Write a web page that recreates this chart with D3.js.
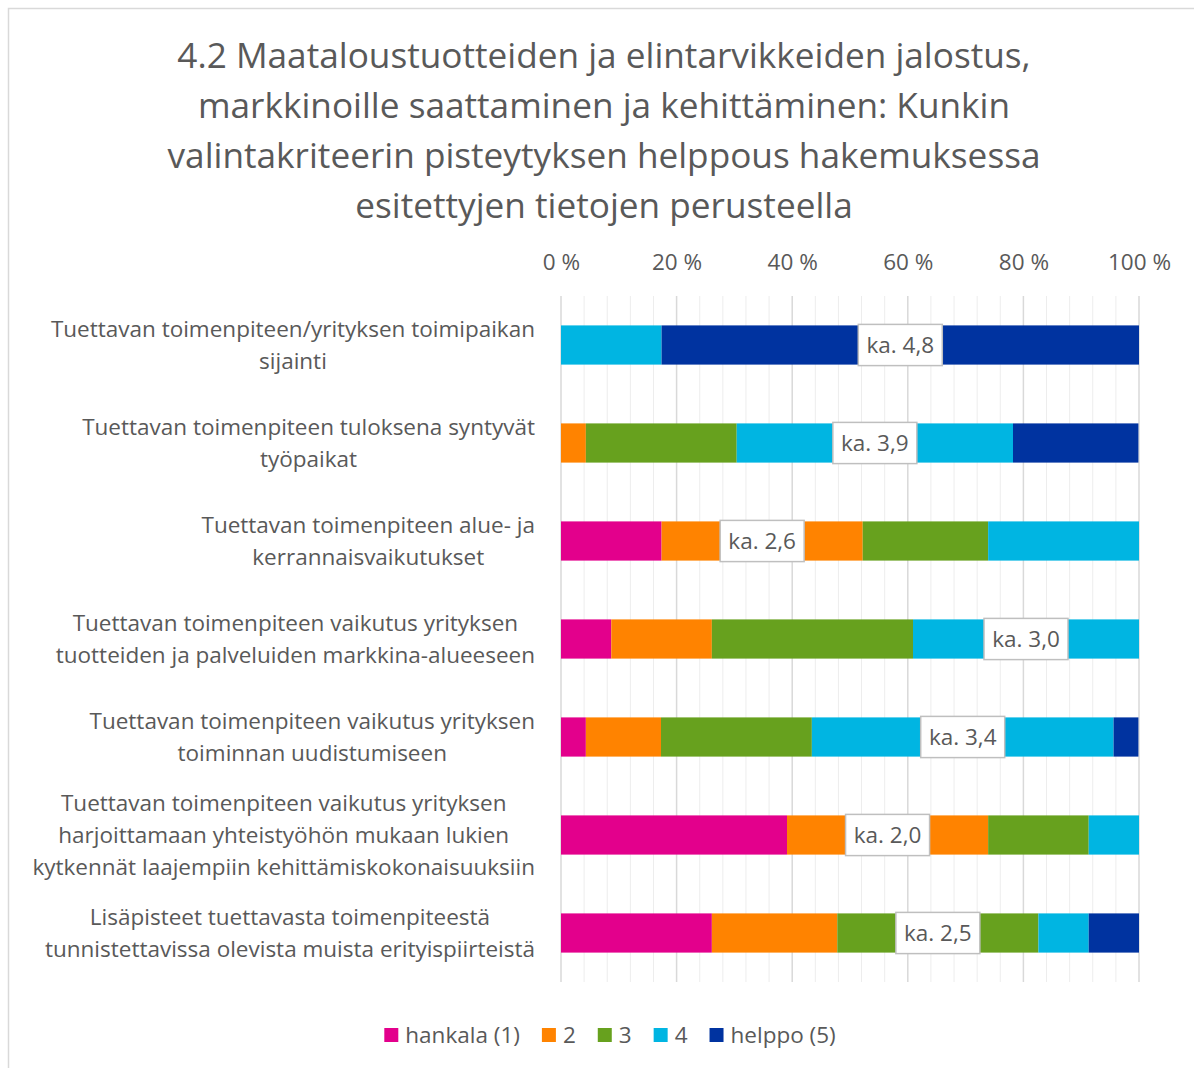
<!DOCTYPE html>
<html>
<head>
<meta charset="utf-8">
<script src="https://cdn.jsdelivr.net/npm/d3@7"></script>
<style>
	body { margin: 0; background: #fff; }
	svg text { font-family: "Open Sans", sans-serif; fill: #595959; }
</style>
</head>
<body>
<div class="svg-container"></div>
<script>
(function () {

	"use strict";

	// chart data
	var title_lines = [
		"4.2 Maataloustuotteiden ja elintarvikkeiden jalostus,",
		"markkinoille saattaminen ja kehittäminen: Kunkin",
		"valintakriteerin pisteytyksen helppous hakemuksessa",
		"esitettyjen tietojen perusteella"
	];

	var categories = [
		["Tuettavan toimenpiteen/yrityksen toimipaikan", "sijainti"],
		["Tuettavan toimenpiteen tuloksena syntyvät", "työpaikat"],
		["Tuettavan toimenpiteen alue- ja", "kerrannaisvaikutukset"],
		["Tuettavan toimenpiteen vaikutus yrityksen", "tuotteiden ja palveluiden markkina-alueeseen"],
		["Tuettavan toimenpiteen vaikutus yrityksen", "toiminnan uudistumiseen"],
		["Tuettavan toimenpiteen vaikutus yrityksen", "harjoittamaan yhteistyöhön mukaan lukien", "kytkennät laajempiin kehittämiskokonaisuuksiin"],
		["Lisäpisteet tuettavasta toimenpiteestä", "tunnistettavissa olevista muista erityispiirteistä"]
	];

	var series_names = ["hankala (1)", "2", "3", "4", "helppo (5)"];

	// percent of answers per category
	var s1 = [0, 0, 17.4, 8.7, 4.3, 39.1, 26.1],
		s2 = [0, 4.3, 34.8, 17.4, 13.0, 34.8, 21.7],
		s3 = [0, 26.1, 21.7, 34.8, 26.1, 17.4, 34.8],
		s4 = [17.4, 47.8, 26.1, 39.1, 52.2, 8.7, 8.7],
		s5 = [82.6, 21.7, 0, 0, 4.3, 0, 8.7];

	// average score and the segment that carries its label
	var means = [4.8, 3.9, 2.6, 3.0, 3.4, 2.0, 2.5],
		label_series = [4, 3, 1, 3, 3, 1, 2];

	var x_ticks = [0, 20, 40, 60, 80, 100];

	var colors = ["#e3008c", "#ff8300", "#67a11e", "#00b5e2", "#0033a0"];

	// table for the stack
	var rows = categories.map(function (c, i) {
		return { "i": i, "s0": s1[i], "s1": s2[i], "s2": s3[i], "s3": s4[i], "s4": s5[i] };
	});
	var keys = ["s0", "s1", "s2", "s3", "s4"];
	var stacked = d3.stack().keys(keys)(rows);

	var width = 1194, height = 1068,
		font_size = "22.5px";

	var svg = d3.select(".svg-container").append("svg")
		.attr("width", width)
		.attr("height", height);

	// chart frame
	svg.append("rect")
		.attr("x", 8.5).attr("y", 8.5)
		.attr("width", 1210).attr("height", 1100)
		.attr("fill", "none")
		.attr("stroke", "#d9d9d9")
		.attr("stroke-width", 1.5);

	var x = d3.scaleLinear().domain([0, 100]).range([561, 1139]);
	var y = d3.scaleBand().domain(d3.range(categories.length)).range([296, 982]).paddingInner(0.6).paddingOuter(0.3);

	// title
	svg.append("g").selectAll("text")
		.data(title_lines)
		.enter().append("text")
		.attr("x", 604)
		.attr("y", function (d, i) { return 68 + i * 50; })
		.attr("text-anchor", "middle")
		.style("font-size", "35.2px")
		.text(function (d) { return d; });

	// grid
	svg.append("g").selectAll("line")
		.data(d3.range(0, 101, 4))
		.enter().append("line")
		.attr("x1", function (d) { return x(d); })
		.attr("x2", function (d) { return x(d); })
		.attr("y1", 296).attr("y2", 982)
		.attr("stroke", function (d) { return d % 20 === 0 ? "#d9d9d9" : "#ededed"; })
		.attr("stroke-width", function (d) { return d % 20 === 0 ? 1.5 : 1; });

	// top axis
	var axis = svg.append("g")
		.attr("transform", "translate(0,270)")
		.call(d3.axisTop(x).tickValues(x_ticks).tickSize(0).tickPadding(0).tickFormat(function (d) { return d + " %"; }));
	axis.select(".domain").remove();
	axis.selectAll("text")
		.attr("dy", 0)
		.style("font-size", font_size)
		.style("font-family", "\"Open Sans\", sans-serif")
		.attr("fill", "#595959");

	// bars
	var layers = svg.append("g").selectAll("g")
		.data(stacked)
		.enter().append("g")
		.attr("fill", function (d, i) { return colors[i]; });

	layers.selectAll("rect")
		.data(function (d) { return d; })
		.enter().append("rect")
		.attr("x", function (d) { return x(d[0]); })
		.attr("y", function (d) { return y(d.data.i); })
		.attr("width", function (d) { return x(d[1]) - x(d[0]); })
		.attr("height", y.bandwidth());

	// mean labels
	var labels = svg.append("g").selectAll("g")
		.data(means)
		.enter().append("g")
		.attr("transform", function (d, i) {
			var seg = stacked[label_series[i]][i];
			return "translate(" + x((seg[0] + seg[1]) / 2) + "," + (y(i) + y.bandwidth() / 2) + ")";
		});

	labels.append("rect")
		.attr("x", -42).attr("y", -y.bandwidth() / 2 - 1)
		.attr("width", 84).attr("height", y.bandwidth() + 2)
		.attr("fill", "#fff")
		.attr("stroke", "#bfbfbf")
		.attr("stroke-width", 1.5);

	labels.append("text")
		.attr("text-anchor", "middle")
		.attr("dy", "0.35em")
		.style("font-size", font_size)
		.text(function (d) { return "ka. " + d3.format(".1f")(d).replace(".", ","); });

	// category labels, centred lines, block right aligned
	var cat = svg.append("g").selectAll("g")
		.data(categories)
		.enter().append("g");

	cat.each(function (lines, i) {
		var g = d3.select(this);
		var cy = y(i) + y.bandwidth() / 2;
		var step = 32;
		var top = cy - (lines.length - 1) * step / 2;
		var texts = g.selectAll("text")
			.data(lines)
			.enter().append("text")
			.attr("y", function (d, j) { return top + j * step; })
			.attr("dy", "0.35em")
			.attr("text-anchor", "middle")
			.style("font-size", font_size)
			.text(function (d) { return d; });
		var max_w = 0;
		texts.each(function () { max_w = Math.max(max_w, this.getComputedTextLength()); });
		texts.attr("x", Math.max(535 - max_w / 2, 20 + max_w / 2));
	});

	// legend
	var legend = svg.append("g").attr("transform", "translate(0,1035)");
	var lx = 0;
	var items = legend.selectAll("g")
		.data(series_names)
		.enter().append("g");
	items.append("rect")
		.attr("x", 0).attr("y", -7)
		.attr("width", 14).attr("height", 14)
		.attr("fill", function (d, i) { return colors[i]; });
	items.append("text")
		.attr("x", 21)
		.attr("dy", "0.35em")
		.style("font-size", font_size)
		.text(function (d) { return d; });
	items.each(function () {
		var w = d3.select(this).select("text").node().getComputedTextLength();
		d3.select(this).attr("transform", "translate(" + lx + ",0)");
		lx += 21 + w + 22;
	});
	legend.attr("transform", "translate(" + (610 - (lx - 22) / 2) + ",1035)");

})();
</script>
</body>
</html>
